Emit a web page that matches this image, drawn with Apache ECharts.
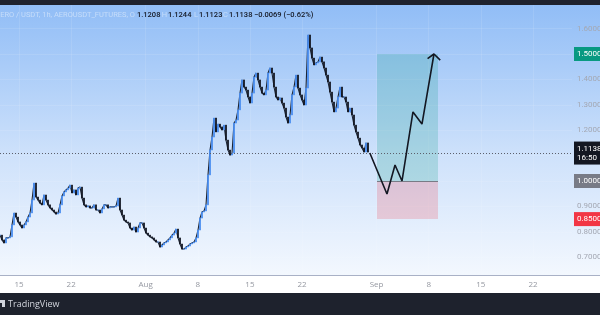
<!DOCTYPE html>
<html><head><meta charset="utf-8">
<script src="https://cdn.jsdelivr.net/npm/echarts@6/dist/echarts.min.js"></script>
<style>html,body{margin:0;padding:0;background:#fff}#c{width:600px;height:315px}</style>
</head><body><div id="c"></div>
<script>
// ---- data ----
const closes = [
0.787,0.768,0.756,0.776,0.776,0.780,0.827,0.874,0.858,0.839,
0.827,0.815,0.827,0.839,0.858,0.874,0.925,0.992,0.937,0.925,
0.913,0.906,0.945,0.925,0.906,0.894,0.886,0.878,0.870,0.874,
0.906,0.941,0.957,0.965,0.972,0.984,0.953,0.965,0.945,0.972,
0.976,0.933,0.906,0.898,0.902,0.894,0.894,0.906,0.886,0.886,
0.874,0.890,0.906,0.906,0.894,0.898,0.898,0.898,0.902,0.933,
0.886,0.866,0.846,0.839,0.835,0.815,0.807,0.819,0.799,0.815,
0.835,0.835,0.815,0.795,0.787,0.780,0.776,0.768,0.760,0.760,
0.740,0.748,0.756,0.760,0.768,0.776,0.787,0.795,0.811,0.776,
0.752,0.732,0.732,0.740,0.744,0.752,0.756,0.760,0.776,0.807,
0.854,0.878,0.882,0.906,1.024,1.122,1.173,1.248,1.193,1.224,
1.213,1.201,1.220,1.161,1.122,1.102,1.110,1.228,1.240,1.280,
1.346,1.398,1.370,1.358,1.331,1.307,1.346,1.409,1.425,1.398,
1.370,1.346,1.339,1.358,1.425,1.445,1.425,1.370,1.331,1.319,
1.327,1.307,1.287,1.252,1.228,1.260,1.339,1.370,1.417,1.366,
1.339,1.319,1.299,1.366,1.575,1.524,1.484,1.457,1.465,1.469,
1.488,1.469,1.445,1.417,1.390,1.350,1.311,1.272,1.287,1.331,
1.370,1.331,1.331,1.311,1.272,1.287,1.260,1.220,1.193,1.169,
1.142,1.130,1.114,1.150,1.1138
];
const startDay = 11.45;      // days since Jul 1 of first sample
const stepDays = 0.2685;     // sample spacing in days
const xTickDays = [14,21,31,38,45,52,62,69,76,83];
const xTickLabels = ['15','22','Aug','8','15','22','Sep','8','15','22'];
const yTickValues = [0.7,0.8,0.9,1.0,1.1,1.2,1.3,1.4,1.5,1.6];
const projDays = [61.1,63.40,64.48,65.42,66.89,68.10,69.71];
const projPrices = [1.110,0.949,1.063,1.000,1.272,1.224,1.500];
const arrowDays = [68.85,69.71,70.55];
const arrowPrices = [1.482,1.500,1.476];
const posStart = 62.06, posEnd = 70.25;
const entryPrice = 1.0, targetPrice = 1.5, stopPrice = 0.85;
const lastPrice = 1.1138, lastTime = '16:50';
const headerTitle = 'AERO / USDT, 1h, AEROUSDT_FUTURES';
const ohlc = ['1.1208','1.1244','1.1123','1.1138'];
const change = '\u22120.0069 (\u22120.62%)';

// ---- build ----
const chart = echarts.init(document.getElementById('c'), null, {renderer:'canvas'});
const candles = closes.map((c,i)=>{
  const o = i===0 ? c : closes[i-1];
  return [startDay + i*stepDays, o, c, Math.min(o,c), Math.max(o,c)];
});
const line = closes.map((c,i)=>[startDay + i*stepDays, c]);
const proj = projDays.map((d,i)=>[d, projPrices[i]]);
const arrow = arrowDays.map((d,i)=>[d, arrowPrices[i]]);
const font = 'Roboto';
const axisBox = (bg, txt) => ({show:true, position:'end', distance:2, formatter:txt,
  backgroundColor:bg, color:'#fff', fontSize:8, fontFamily:font, padding:[3,3,2,3], lineHeight:9});
const hidden = {color:'rgba(0,0,0,0)', width:0};

const letters = ['O','H','L','C'];
const valX = [137,168,199,229];
const hdrFont = '500 7.5px ' + font;
const graphics = [
  {type:'rect', shape:{x:0,y:0,width:600,height:5}, style:{fill:'#1e222d'}, z:100},
  {type:'rect', shape:{x:0,y:275,width:600,height:18}, style:{fill:'#ffffff'}, z:-10},
  {type:'line', shape:{x1:0,y1:275.5,x2:600,y2:275.5}, style:{stroke:'#a9b1c6',lineWidth:1.2}, z:-9},
  {type:'rect', shape:{x:0,y:293,width:600,height:22}, style:{fill:'#1e222d'}, z:100},
  {type:'polygon', shape:{points:[[0,300],[5,300],[5,307],[2,307],[2,303],[0,303]]}, style:{fill:'#d1d4dc'}, z:101},
  {type:'text', x:8, y:304, style:{text:'TradingView', fill:'#d1d4dc', font:'9px "Open Sans"', verticalAlign:'middle'}, z:101},
  {type:'text', x:135, y:15, style:{text:headerTitle+', O', fill:'rgba(255,255,255,0.45)', font:'7.5px '+font, align:'right', verticalAlign:'middle'}, z:101}
];
ohlc.forEach((v,i)=>{
  if(i>0) graphics.push({type:'text', x:valX[i]-1, y:15, style:{text:letters[i], fill:'rgba(255,255,255,0.45)', font:'7.5px '+font, align:'right', verticalAlign:'middle'}, z:101});
  graphics.push({type:'text', x:valX[i], y:15, style:{text:v, fill:'#131722', font:hdrFont, verticalAlign:'middle'}, z:101});
});
graphics.push({type:'text', x:254, y:15, style:{text:change, fill:'#131722', font:hdrFont, verticalAlign:'middle'}, z:101});

chart.setOption({
  animation:false,
  backgroundColor: new echarts.graphic.LinearGradient(0,0,0,1,[{offset:0,color:'#8fbcf6'},{offset:0.5,color:'#cfe2fb'},{offset:1,color:'#ffffff'}]),
  grid:{left:0, right:28, top:5, bottom:40, containLabel:false, outerBoundsMode:'none'},
  xAxis:{type:'value', min:11.45, max:88.24,
    axisLine:{show:false}, axisTick:{show:false, customValues:xTickDays},
    splitLine:{show:true, lineStyle:{color:'rgba(255,255,255,0.10)', width:1}},
    axisLabel:{customValues:xTickDays, margin:6, color:'#9598a1', fontSize:8, fontFamily:'Open Sans',
      formatter:(v)=>xTickLabels[xTickDays.indexOf(v)] || ''}},
  yAxis:{type:'value', position:'right', min:0.6299, max:1.6929, scale:true,
    axisLine:{show:false}, axisTick:{show:false, customValues:yTickValues},
    splitLine:{show:true, lineStyle:{color:'rgba(255,255,255,0.10)', width:1}},
    axisLabel:{customValues:yTickValues, margin:5, color:'#a4a8b3', fontSize:8, fontFamily:font,
      formatter:(v)=>v.toFixed(4)}},
  graphic:graphics,
  series:[
    {type:'line', data:line, symbol:'none', lineStyle:{color:'#1c2535', width:1.1}, z:2, silent:true},
    {type:'candlestick', data:candles, encode:{x:0,y:[1,2,3,4]}, barWidth:1.4, z:3,
      itemStyle:{color:'#4a8ef0', color0:'#131722', borderColor:'#4a8ef0', borderColor0:'#131722', borderWidth:0.8}},
    {type:'line', data:proj, symbol:'none', lineStyle:{color:'#131722', width:1.6}, z:5,
      markArea:{silent:true, data:[
        [{coord:[posStart,targetPrice], itemStyle:{color:'rgba(8,153,129,0.2)'}},{coord:[posEnd,entryPrice]}],
        [{coord:[posStart,entryPrice], itemStyle:{color:'rgba(242,54,69,0.2)'}},{coord:[posEnd,stopPrice]}]
      ]},
      markLine:{silent:true, symbol:['none','none'], animation:false, data:[
        {yAxis:lastPrice, lineStyle:{color:'#5d606b', type:[1,2], width:1}, label:axisBox('#131722', lastPrice.toFixed(4)+'\n'+lastTime)},
        [{coord:[posStart,entryPrice], lineStyle:{color:'#787b86', type:'solid', width:1}, label:{show:false}},{coord:[posEnd,entryPrice]}],
        {yAxis:targetPrice, lineStyle:hidden, label:axisBox('#089981', targetPrice.toFixed(4))},
        {yAxis:entryPrice, lineStyle:hidden, label:axisBox('#787b86', entryPrice.toFixed(4))},
        {yAxis:stopPrice, lineStyle:hidden, label:axisBox('#f23645', stopPrice.toFixed(4))}
      ]}},
    {type:'line', data:arrow, symbol:'none', lineStyle:{color:'#131722', width:1.6}, z:5}
  ]
});
</script></body></html>
